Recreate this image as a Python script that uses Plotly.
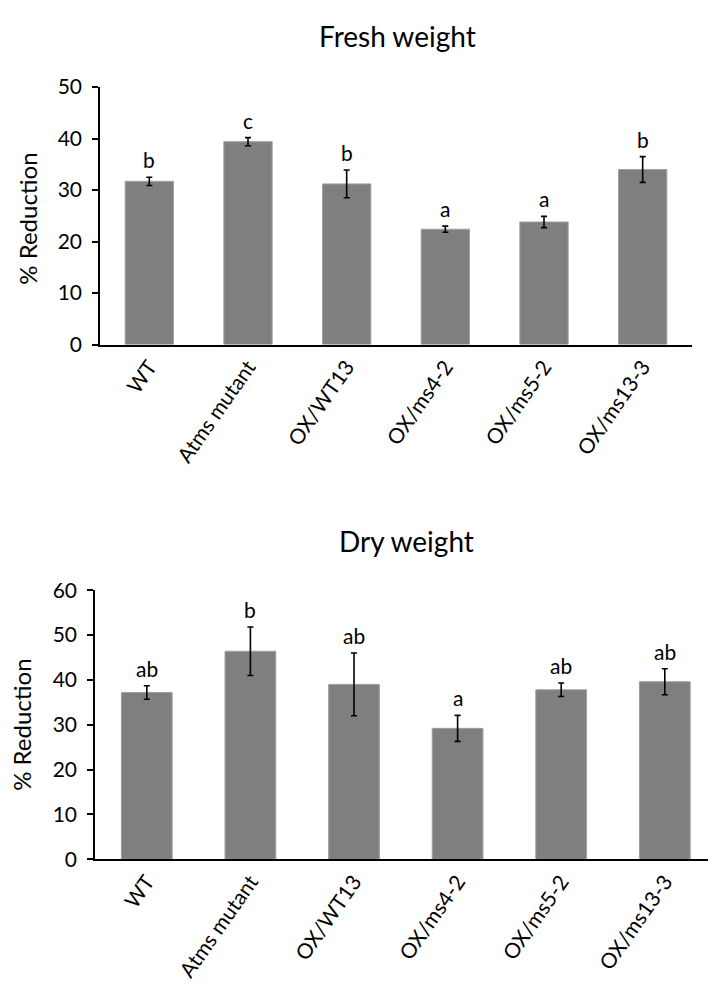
import plotly.graph_objects as go

categories = ["WT", "Atms mutant", "OX/WT13", "OX/ms4-2", "OX/ms5-2", "OX/ms13-3"]

fresh_values = [31.7, 39.4, 31.2, 22.4, 23.8, 34.0]
fresh_errors = [0.8, 0.8, 2.7, 0.6, 1.1, 2.5]
fresh_letters = ["b", "c", "b", "a", "a", "b"]

dry_values = [37.2, 46.4, 39.0, 29.2, 37.8, 39.6]
dry_errors = [1.5, 5.4, 7.0, 2.9, 1.5, 2.9]
dry_letters = ["ab", "b", "ab", "a", "ab", "ab"]

FONT = "Lato"
BAR = "#7f7f7f"

fig = go.Figure()

fig.add_trace(go.Bar(
    x=categories, y=fresh_values, xaxis="x", yaxis="y",
    marker=dict(color=BAR, line=dict(color="#a0a0a0", width=1)),
    error_y=dict(type="data", array=fresh_errors, color="black", thickness=1.6, width=3),
    showlegend=False,
))
fig.add_trace(go.Bar(
    x=categories, y=dry_values, xaxis="x2", yaxis="y2",
    marker=dict(color=BAR, line=dict(color="#a0a0a0", width=1)),
    error_y=dict(type="data", array=dry_errors, color="black", thickness=1.6, width=3),
    showlegend=False,
))

annotations = []
for c, v, e, t in zip(categories, fresh_values, fresh_errors, fresh_letters):
    annotations.append(dict(x=c, y=v + e, xref="x", yref="y", text=t, showarrow=False,
                            yanchor="bottom", yshift=3, font=dict(family=FONT, size=21, color="black")))
for c, v, e, t in zip(categories, dry_values, dry_errors, dry_letters):
    annotations.append(dict(x=c, y=v + e, xref="x2", yref="y2", text=t, showarrow=False,
                            yanchor="bottom", yshift=3, font=dict(family=FONT, size=21, color="black")))

annotations += [
    dict(x=397 / 708, y=1 - 23 / 1000, xref="paper", yref="paper", text="Fresh weight",
         showarrow=False, xanchor="center", yanchor="middle", font=dict(family=FONT, size=28, color="black")),
    dict(x=406 / 708, y=1 - 541 / 1000, xref="paper", yref="paper", text="Dry weight",
         showarrow=False, xanchor="center", yanchor="middle", font=dict(family=FONT, size=28, color="black")),
    dict(x=28 / 708, y=1 - 210 / 1000, xref="paper", yref="paper", text="% Reduction", textangle=-90,
         showarrow=False, xanchor="center", yanchor="middle", font=dict(family=FONT, size=24, color="black")),
    dict(x=22 / 708, y=1 - 729 / 1000, xref="paper", yref="paper", text="% Reduction", textangle=-90,
         showarrow=False, xanchor="center", yanchor="middle", font=dict(family=FONT, size=24, color="black")),
]

axis_common = dict(showline=True, linecolor="black", linewidth=1.5, showgrid=False, zeroline=False)
xfont = dict(family=FONT, size=21, color="black")
yfont = dict(family=FONT, size=21, color="black")

fig.update_layout(
    width=708, height=1000, margin=dict(l=0, r=0, t=0, b=0),
    paper_bgcolor="white", plot_bgcolor="white",
    bargap=0.51,
    xaxis=dict(domain=[100 / 708, 692 / 708], anchor="y", range=[-0.5, 5.5], ticks="",
               tickangle=-55, tickfont=xfont, **axis_common),
    yaxis=dict(domain=[1 - 339 / 1000, 1 - 75 / 1000], anchor="x", range=[0, 50], dtick=10,
               ticks="outside", ticklen=6, tickwidth=1.5, tickcolor="black", ticklabelstandoff=6,
               tickfont=yfont, **axis_common),
    xaxis2=dict(domain=[95 / 708, 1.0], anchor="y2", range=[-0.5, 5.417], ticks="",
                tickangle=-55, tickfont=xfont, **axis_common),
    yaxis2=dict(domain=[1 - 867 / 1000, 1 - 591 / 1000], anchor="x2", range=[0, 60], dtick=10,
                ticks="outside", ticklen=6, tickwidth=1.5, tickcolor="black", ticklabelstandoff=6,
                tickfont=yfont, **axis_common),
    annotations=annotations,
)

fig.write_html("out.html")
